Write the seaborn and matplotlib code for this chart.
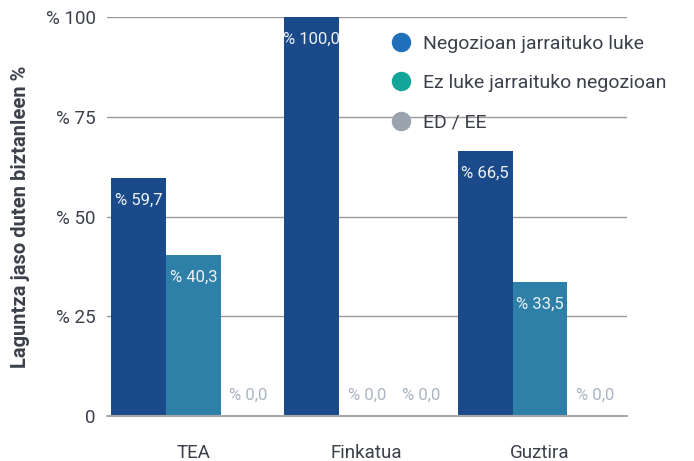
import numpy as np
import pandas as pd
import matplotlib
matplotlib.use('Agg')
import matplotlib.pyplot as plt
import seaborn as sns
from matplotlib.lines import Line2D

# datuak
categories = ['TEA', 'Finkatua', 'Guztira']
series = ['Negozioan jarraituko luke', 'Ez luke jarraituko negozioan', 'ED / EE']
negozioan = [59.7, 100.0, 66.5]
ez_luke = [40.3, 0.0, 33.5]
ed_ee = [0.0, 0.0, 0.0]
ytick_vals = [0, 25, 50, 75, 100]
ytick_labels = ['0', '% 25', '% 50', '% 75', '% 100']

bar_colors = ['#1a4a89', '#2e80a8', '#9aa3ad']
legend_colors = ['#1f6fba', '#14a59a', '#9aa3ad']
text_col = '#3b404b'

df = pd.DataFrame({
    'kategoria': categories * 3,
    'seriea': [series[0]] * 3 + [series[1]] * 3 + [series[2]] * 3,
    'balioa': negozioan + ez_luke + ed_ee,
})

sns.set_style('white')
plt.rcParams['font.family'] = ['Roboto', 'DejaVu Sans']

fig = plt.figure(figsize=(6.94, 4.61), dpi=100)
ax = fig.add_axes([0.154, 0.0976, 0.749, 0.8654])

sns.barplot(data=df, x='kategoria', y='balioa', hue='seriea', hue_order=series,
            palette=bar_colors, width=0.95, saturation=1, ax=ax, legend=False,
            linewidth=0, edgecolor='none', zorder=3)

ax.set_ylim(0, 100)
ax.set_xlim(-0.5, 2.5)
ax.set_yticks(ytick_vals)
ax.set_yticklabels(ytick_labels)
ax.yaxis.grid(True, color='#9a9a9a', linewidth=1.0, zorder=0)
ax.set_axisbelow(True)
for s in ax.spines.values():
    s.set_visible(False)
# oinarri lerroa
ax.axhline(0, color='#a8a8a8', linewidth=1.5, zorder=4, clip_on=False)
ax.tick_params(axis='both', length=0, labelsize=13.5, colors=text_col, pad=8)
ax.tick_params(axis='x', pad=20)
ax.set_xlabel('')
ax.set_ylabel('Laguntza jaso duten biztanleen %', fontsize=14.5, fontweight='bold',
              color=text_col, labelpad=11)

# etiketak
for cont in ax.containers:
    for bar in cont:
        h = bar.get_height()
        x = bar.get_x() + bar.get_width() / 2
        lbl = '% ' + ('%.1f' % h).replace('.', ',')
        if h > 0:
            ax.annotate(lbl, (x, h), xytext=(0, -16), textcoords='offset points',
                        ha='center', va='center', fontsize=12, color='#eef2f7',
                        zorder=5)
        else:
            ax.annotate(lbl, (x, 0), xytext=(0, 15), textcoords='offset points',
                        ha='center', va='center', fontsize=12, color='#aab4c2',
                        zorder=5)

handles = [Line2D([0], [0], marker='o', linestyle='', markersize=13,
                  markerfacecolor=c, markeredgecolor=c) for c in legend_colors]
leg = ax.legend(handles, series, loc='upper left', bbox_to_anchor=(0.51, 1.0),
                frameon=False, fontsize=14, labelspacing=1.1, handletextpad=0.5,
                handlelength=1.2)
for t in leg.get_texts():
    t.set_color(text_col)

plt.savefig('out.png', dpi=100)
